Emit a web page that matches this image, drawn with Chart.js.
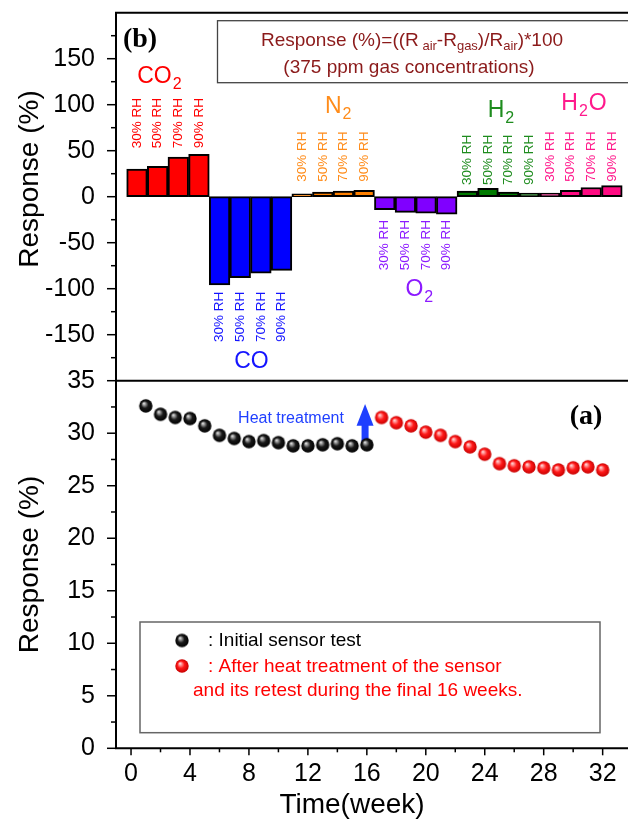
<!DOCTYPE html>
<html><head><meta charset="utf-8">
<script src="https://cdn.jsdelivr.net/npm/chart.js@4.4.1/dist/chart.umd.min.js"></script>
<style>
html,body{margin:0;padding:0;background:#fff;overflow:hidden}
#wrap{position:relative;width:628px;height:822px;background:#fff}
canvas{position:absolute;left:0;top:0}
</style></head><body>
<div id="wrap"><canvas id="cb" width="628" height="822"></canvas><canvas id="ca" width="628" height="822"></canvas></div>
<script>
// ---------------- data ----------------
const gases = ['CO2', 'CO', 'N2', 'O2', 'H2', 'H2O'];
const rhLevels = ['30% RH', '50% RH', '70% RH', '90% RH'];
const responseCO2 = [30, 33, 43, 46];
const responseCO  = [-96, -88, -83, -80];
const responseN2  = [3, 5, 6, 7];
const responseO2  = [-14, -17, -18, -19];
const responseH2  = [6, 9, 5, 4];
const responseH2O = [4, 7, 10, 12];
const barTicks = [-150, -100, -50, 0, 50, 100, 150];

const weeksInitial = [1, 2, 3, 4, 5, 6, 7, 8, 9, 10, 11, 12, 13, 14, 15, 16];
const responseInitial = [32.6, 31.8, 31.5, 31.4, 30.7, 29.8, 29.5, 29.2, 29.3, 29.1, 28.8, 28.8, 28.9, 29.0, 28.8, 28.9];
const weeksAfter = [17, 18, 19, 20, 21, 22, 23, 24, 25, 26, 27, 28, 29, 30, 31, 32];
const responseAfter = [31.5, 31.0, 30.7, 30.1, 29.8, 29.2, 28.7, 28.0, 27.1, 26.9, 26.8, 26.7, 26.5, 26.7, 26.8, 26.5];
const weekTicks = [0, 4, 8, 12, 16, 20, 24, 28, 32];
const responseTicks = [0, 5, 10, 15, 20, 25, 30, 35];

// ---------------- style / layout ----------------
const W = 628, H = 822;
const FRAME = {left: 116, top: 12.7, mid: 380.7, bottom: 748.3};
const BAR_X_RANGE = [-1.017, 23.78];
const WEEK_RANGE = [-1.02, 33.72];
const gasBarColors = ['#ff0000', '#0000ff', '#ff8000', '#8000ff', '#007a00', '#ff0a82'];
const gasTextColors = ['#ff0000', '#1414ff', '#ff8c1a', '#8c1aff', '#1e8c1e', '#ff1a8c'];
const FONT = "'Liberation Sans', Arial, Helvetica, sans-serif";
const SERIF = "'Liberation Serif', 'Times New Roman', serif";

Chart.defaults.font.family = FONT;
Chart.defaults.color = '#000';

// RH label anchors (value of label start/end) and gas-name anchors {x: bar index, y: value}
const rhAnchor = [52.6, -103.3, 16.3, -25.3, 12.7, 16.3];
const gasLabelPos = [
  {x: 1.11, y: 123.6, parts: [['CO', 0], ['2', 1]]},
  {x: 5.545, y: -186.2, parts: [['CO', 0]]},
  {x: 9.77, y: 90.6, parts: [['N', 0], ['2', 1]]},
  {x: 13.70, y: -107.9, parts: [['O', 0], ['2', 1]]},
  {x: 17.65, y: 87.0, parts: [['H', 0], ['2', 1]]},
  {x: 21.65, y: 94.2, parts: [['H', 0], ['2', 1], ['O', 0]]}
];

const barGroups = [responseCO2, responseCO, responseN2, responseO2, responseH2, responseH2O];
const barValues = [].concat(...barGroups);
const barData = barValues.map((v, i) => ({x: i, y: v}));
const barFill = [];
barGroups.forEach((g, gi) => g.forEach(() => barFill.push(gasBarColors[gi])));

// rich text helper: parts = [[text, isSub]]
function drawRich(ctx, cx, baseY, parts, size, subSize, subDy, color, gap) {
  ctx.fillStyle = color;
  ctx.textAlign = 'left';
  ctx.textBaseline = 'alphabetic';
  let total = 0;
  const widths = parts.map(([t, s]) => {
    ctx.font = (s ? subSize : size) + 'px ' + FONT;
    const w = ctx.measureText(t).width + (s ? gap : 0);
    total += w;
    return w;
  });
  let x = cx - total / 2;
  parts.forEach(([t, s], i) => {
    ctx.font = (s ? subSize : size) + 'px ' + FONT;
    ctx.fillText(t, x + (s ? gap / 2 : 0), baseY + (s ? subDy : 0));
    x += widths[i];
  });
}

function sphere(r, hi, mid, dark) {
  const c = document.createElement('canvas');
  const d = Math.ceil(2 * r + 2);
  c.width = c.height = d;
  const g = c.getContext('2d');
  const cx = d / 2, cy = d / 2;
  const grad = g.createRadialGradient(cx - r * 0.3, cy - r * 0.38, r * 0.05, cx, cy, r);
  grad.addColorStop(0, hi);
  grad.addColorStop(0.5, mid);
  grad.addColorStop(1, dark);
  g.fillStyle = grad;
  g.beginPath(); g.arc(cx, cy, r, 0, Math.PI * 2); g.fill();
  return c;
}
const blackBall = sphere(6.7, '#e0e0e0', '#1a1a1a', '#000000');
const redBall = sphere(6.7, '#ffd8d8', '#ff1a1a', '#c80000');

function line(ctx, x1, y1, x2, y2) {
  ctx.beginPath(); ctx.moveTo(x1, y1); ctx.lineTo(x2, y2); ctx.stroke();
}
function noPad(s) { s.paddingTop = 0; s.paddingBottom = 0; s.paddingLeft = 0; s.paddingRight = 0; }

// ---------------- top panel (b) ----------------
const topDecor = {
  id: 'topDecor',
  afterDraw(chart) {
    const ctx = chart.ctx, xs = chart.scales.x, ys = chart.scales.y, a = chart.chartArea;
    ctx.save();
    ctx.strokeStyle = '#000';
    ctx.lineWidth = 2;
    ctx.beginPath();
    ctx.moveTo(a.left, a.bottom); ctx.lineTo(a.left, a.top); ctx.lineTo(W + 2, a.top);
    ctx.stroke();
    ctx.lineWidth = 1.5;
    for (let v = -175; v <= 175; v += 25) {
      const py = ys.getPixelForValue(v);
      line(ctx, a.left - (v % 50 === 0 ? 9 : 5), py, a.left, py);
    }
    // y title of top panel
    ctx.save();
    ctx.translate(30, 179);
    ctx.rotate(-Math.PI / 2);
    ctx.fillStyle = '#000';
    ctx.font = '28px ' + FONT;
    ctx.textAlign = 'center'; ctx.textBaseline = 'middle';
    ctx.fillText('Response (%)', 0, 0);
    ctx.restore();
    // (b)
    ctx.fillStyle = '#000';
    ctx.font = 'bold 28px ' + SERIF;
    ctx.textAlign = 'center'; ctx.textBaseline = 'middle';
    ctx.fillText('(b)', 140, 40);
    // formula box
    ctx.strokeStyle = '#444'; ctx.lineWidth = 1.3;
    ctx.strokeRect(217.5, 20.7, 430, 62);
    const fc = '#8b1a1a';
    drawRich(ctx, 412, 46, [['Response (%)=((R', 0], [' air', 1], ['-R', 0], ['gas', 1], [')/R', 0], ['air', 1], [')*100', 0]], 19, 13, 4, fc, 0);
    drawRich(ctx, 409, 73, [['(375 ppm gas concentrations)', 0]], 19, 13, 4, fc, 0);
    // RH labels
    ctx.font = '13.5px ' + FONT;
    ctx.textBaseline = 'middle';
    barGroups.forEach((g, gi) => {
      const neg = g[0] < 0;
      g.forEach((v, k) => {
        const px = xs.getPixelForValue(gi * 4 + k);
        const py = ys.getPixelForValue(rhAnchor[gi]);
        ctx.save();
        ctx.translate(px, py);
        ctx.rotate(-Math.PI / 2);
        ctx.fillStyle = gasTextColors[gi];
        ctx.textAlign = neg ? 'right' : 'left';
        ctx.fillText(rhLevels[k], 0, 0);
        ctx.restore();
      });
    });
    // gas names
    gasLabelPos.forEach((p, gi) => {
      drawRich(ctx, xs.getPixelForValue(p.x), ys.getPixelForValue(p.y), p.parts, 23, 16, 6, gasTextColors[gi], 2);
    });
    ctx.restore();
  }
};

new Chart(document.getElementById('cb'), {
  type: 'bar',
  data: {
    datasets: [{
      label: 'Response',
      data: barData,
      backgroundColor: barFill,
      borderColor: '#000',
      borderWidth: 2,
      borderSkipped: false,
      categoryPercentage: 1,
      barPercentage: 1
    }]
  },
  options: {
    responsive: false, animation: false, devicePixelRatio: 1,
    layout: {autoPadding: false, padding: {left: 0, right: 0, top: FRAME.top, bottom: H - FRAME.mid}},
    plugins: {legend: {display: false}, tooltip: {enabled: false}},
    scales: {
      x: {type: 'linear', display: false, offset: false, min: BAR_X_RANGE[0], max: BAR_X_RANGE[1], grid: {offset: false}},
      y: {
        min: -200, max: 200,
        afterFit(s) { s.width = FRAME.left; noPad(s); },
        afterBuildTicks(s) { s.ticks = barTicks.map(v => ({value: v})); },
        grid: {display: false, drawTicks: false},
        border: {display: false},
        ticks: {padding: 21, font: {size: 25}, color: '#000', callback: v => String(v)},
        title: {display: false, text: 'Response (%)'}
      }
    }
  },
  plugins: [topDecor]
});

// ---------------- bottom panel (a) ----------------
const HEAT_ARROW = {x: 15.88, from: 29.1, headBase: 30.7, tip: 32.78};
const bottomDecor = {
  id: 'bottomDecor',
  beforeDatasetsDraw(chart) {
    const ctx = chart.ctx, xs = chart.scales.x, ys = chart.scales.y;
    const px = xs.getPixelForValue(HEAT_ARROW.x);
    const y0 = ys.getPixelForValue(HEAT_ARROW.from);
    const yb = ys.getPixelForValue(HEAT_ARROW.headBase);
    const yt = ys.getPixelForValue(HEAT_ARROW.tip);
    ctx.save();
    ctx.fillStyle = '#1f3fff';
    ctx.fillRect(px - 3.5, yb - 1, 7, y0 - yb + 1);
    ctx.beginPath();
    ctx.moveTo(px, yt); ctx.lineTo(px + 8.5, yb); ctx.lineTo(px - 8.5, yb); ctx.closePath();
    ctx.fill();
    ctx.restore();
  },
  afterDraw(chart) {
    const ctx = chart.ctx, xs = chart.scales.x, ys = chart.scales.y, a = chart.chartArea;
    ctx.save();
    ctx.strokeStyle = '#000';
    ctx.lineWidth = 2;
    ctx.beginPath();
    ctx.moveTo(W + 2, a.top); ctx.lineTo(a.left, a.top); ctx.lineTo(a.left, a.bottom); ctx.lineTo(W + 2, a.bottom);
    ctx.stroke();
    ctx.lineWidth = 1.5;
    for (let v = 0; v <= 35; v += 2.5) {
      const py = ys.getPixelForValue(v);
      line(ctx, a.left - (v % 5 === 0 ? 9 : 5), py, a.left, py);
    }
    for (let w = 0; w <= 32; w += 2) {
      const px = xs.getPixelForValue(w);
      line(ctx, px, a.bottom, px, a.bottom + (w % 4 === 0 ? 7 : 4));
    }
    // x title
    ctx.fillStyle = '#000';
    ctx.font = '28px ' + FONT;
    ctx.textAlign = 'center'; ctx.textBaseline = 'middle';
    ctx.fillText('Time(week)', 352, 805);
    // heat treatment text
    ctx.fillStyle = '#1f3fff';
    ctx.font = '16px ' + FONT;
    ctx.fillText('Heat treatment', 291, 419);
    // (a)
    ctx.fillStyle = '#000';
    ctx.font = 'bold 28px ' + SERIF;
    ctx.fillText('(a)', 586, 417);
    // legend box
    ctx.strokeStyle = '#666'; ctx.lineWidth = 1.5;
    ctx.strokeRect(140, 622, 460, 110.7);
    ctx.drawImage(blackBall, 182 - blackBall.width / 2, 640.5 - blackBall.height / 2);
    ctx.drawImage(redBall, 182 - redBall.width / 2, 666 - redBall.height / 2);
    ctx.font = '19px ' + FONT;
    ctx.textAlign = 'left'; ctx.textBaseline = 'middle';
    ctx.fillStyle = '#000';
    ctx.fillText(': Initial sensor test', 208, 641);
    ctx.fillStyle = '#ff0000';
    ctx.fillText(': After heat treatment of the sensor', 208, 666.5);
    ctx.fillText('and its retest during the final 16 weeks.', 193, 690.5);
    ctx.restore();
  }
};

new Chart(document.getElementById('ca'), {
  type: 'scatter',
  data: {
    datasets: [
      {label: 'Initial sensor test', data: weeksInitial.map((w, i) => ({x: w, y: responseInitial[i]})),
       pointStyle: blackBall, pointRadius: 6.7, backgroundColor: '#000', borderColor: '#000'},
      {label: 'After heat treatment', data: weeksAfter.map((w, i) => ({x: w, y: responseAfter[i]})),
       pointStyle: redBall, pointRadius: 6.7, backgroundColor: '#f00', borderColor: '#f00'}
    ]
  },
  options: {
    responsive: false, animation: false, devicePixelRatio: 1,
    layout: {autoPadding: false, padding: {left: 0, right: 0, top: FRAME.mid, bottom: 0}},
    plugins: {legend: {display: false}, tooltip: {enabled: false}},
    scales: {
      x: {
        type: 'linear', min: WEEK_RANGE[0], max: WEEK_RANGE[1],
        afterFit(s) { s.height = H - FRAME.bottom; noPad(s); },
        afterBuildTicks(s) { s.ticks = weekTicks.map(v => ({value: v})); },
        grid: {display: false, drawTicks: false},
        border: {display: false},
        ticks: {padding: 11, font: {size: 25}, color: '#000', maxRotation: 0, autoSkip: false, callback: v => String(v)}
      },
      y: {
        min: 0, max: 35,
        afterFit(s) { s.width = FRAME.left; noPad(s); },
        afterBuildTicks(s) { s.ticks = responseTicks.map(v => ({value: v})); },
        grid: {display: false, drawTicks: false},
        border: {display: false},
        ticks: {padding: 21, font: {size: 25}, color: '#000', callback: v => String(v)},
        title: {display: true, text: 'Response (%)', font: {size: 28}, color: '#000', padding: {top: 13, bottom: 0}}
      }
    }
  },
  plugins: [bottomDecor]
});
</script>
</body></html>
